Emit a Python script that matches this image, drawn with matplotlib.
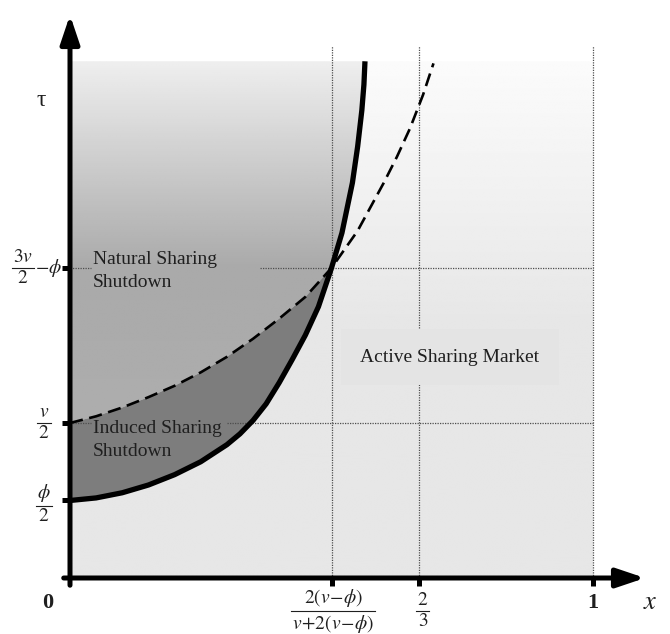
import numpy as np
import matplotlib.pyplot as plt
from matplotlib.patches import Polygon

plt.rcParams['font.family'] = ['Liberation Serif', 'DejaVu Serif']
plt.rcParams['mathtext.fontset'] = 'stix'

# key levels on the axes
phi_half = 0.15
v_half = 0.30
tau_cross = 0.60
x_cross = 0.50
x_two_thirds = 2 / 3
x_one = 1.0
tau_top = 1.0

# solid boundary
solid_x = [0.0, 0.05, 0.1, 0.15, 0.2, 0.25, 0.3, 0.325, 0.35, 0.375, 0.4,
           0.425, 0.45, 0.475, 0.5, 0.52, 0.54, 0.55, 0.558, 0.562, 0.564]
solid_tau = [0.150, 0.155, 0.165, 0.180, 0.200, 0.225, 0.258, 0.279, 0.305,
             0.337, 0.378, 0.423, 0.470, 0.525, 0.600, 0.668, 0.765, 0.835,
             0.905, 0.955, 1.0]

# dashed boundary
dashed_x = [0.0, 0.05, 0.1, 0.15, 0.2, 0.25, 0.3, 0.35, 0.4, 0.45, 0.5,
            0.55, 0.6, 0.625, 0.65, 0.675, 0.695]
dashed_tau = [0.300, 0.313, 0.330, 0.350, 0.372, 0.398, 0.428, 0.463, 0.502,
              0.544, 0.600, 0.672, 0.765, 0.815, 0.870, 0.935, 0.996]

y_tick_vals = [phi_half, v_half, tau_cross]
x_tick_vals = [x_cross, x_two_thirds, x_one]

region_labels = ['Natural Sharing\nShutdown', 'Induced Sharing\nShutdown',
                 'Active Sharing Market']

TXT = '0.12'


def px(x):
    return (x - 70) / 523


def py(y):
    return (578 - y) / 516.7


def frac(ax, renderer, x, y, num, den, fs=14):
    # stacked fraction centred on (x, y), bar at y
    nt = ax.annotate(num, xy=(x, y), xytext=(0, 1.5), textcoords='offset points',
                     ha='center', va='bottom', fontsize=fs, color=TXT)
    dt = ax.annotate(den, xy=(x, y), xytext=(0, -1.5), textcoords='offset points',
                     ha='center', va='top', fontsize=fs, color=TXT)
    w = max(nt.get_window_extent(renderer).width,
            dt.get_window_extent(renderer).width) + 2
    half = w / 2 / 523
    ax.plot([x - half, x + half], [y, y], color=TXT, lw=0.8)
    return x + half


def main():
    fig = plt.figure(figsize=(6.7, 6.34), dpi=100)
    ax = fig.add_axes([0, 0, 1, 1])
    ax.set_xlim(-70 / 523, 600 / 523)
    ax.set_ylim(-56 / 516.7, 578 / 516.7)
    ax.axis('off')
    renderer = fig.canvas.get_renderer()

    t = np.linspace(0, 1, 256)

    # light background of the whole square
    light = np.interp(t, [0, 0.5, 1.0], [0.905, 0.905, 0.985])
    ax.imshow(np.repeat(light[:, None], 2, axis=1), cmap='gray', vmin=0, vmax=1,
              extent=[0, x_one, 0, tau_top], origin='lower', aspect='auto',
              zorder=0, interpolation='bilinear')

    # natural shutdown region, gradient clipped to the polygon
    sx, st = np.array(solid_x), np.array(solid_tau)
    dx, dt = np.array(dashed_x), np.array(dashed_tau)
    up = sx >= x_cross
    lo = dx <= x_cross
    nat = np.vstack([[[0, tau_top], [sx[-1], tau_top]],
                     np.column_stack([sx[up][::-1], st[up][::-1]]),
                     np.column_stack([dx[lo][::-1], dt[lo][::-1]])])
    nat_poly = Polygon(nat, closed=True, facecolor='none', edgecolor='none')
    ax.add_patch(nat_poly)
    dark = np.interp(t, [0, 0.3, 0.6, 1.0], [0.68, 0.68, 0.665, 0.935])
    im = ax.imshow(np.repeat(dark[:, None], 2, axis=1), cmap='gray', vmin=0, vmax=1,
                   extent=[0, 0.6, 0, tau_top], origin='lower', aspect='auto',
                   zorder=1, interpolation='bilinear')
    im.set_clip_path(nat_poly)

    # induced shutdown region
    sl = sx <= x_cross
    ind = np.vstack([np.column_stack([dx[lo], dt[lo]]),
                     np.column_stack([sx[sl][::-1], st[sl][::-1]])])
    ax.add_patch(Polygon(ind, closed=True, facecolor='0.49', edgecolor='none',
                         zorder=2))

    # dotted guide lines
    dot = dict(color='0.3', lw=0.9, ls=(0, (1, 1)), zorder=3)
    for xv in x_tick_vals:
        ax.plot([xv, xv], [0, 1.03], **dot)
    ax.plot([0, 0.04], [tau_cross, tau_cross], **dot)
    ax.plot([0.363, x_one], [tau_cross, tau_cross], **dot)
    ax.plot([0, 0.04], [v_half, v_half], **dot)
    ax.plot([0.30, x_one], [v_half, v_half], **dot)

    # boundaries
    ax.plot(solid_x, solid_tau, color='k', lw=3.8, zorder=5,
            solid_capstyle='butt', solid_joinstyle='round')
    ax.plot(dashed_x, dashed_tau, color='k', lw=1.9, ls=(0, (5, 2.5)), zorder=5)

    # axes with arrows
    arrow = dict(arrowstyle='-|>,head_length=0.95,head_width=0.32', lw=3.6,
                 color='k', shrinkA=0, shrinkB=0, mutation_scale=18)
    ax.annotate('', xy=(0, py(15)), xytext=(0, -0.014),
                arrowprops=arrow, zorder=6)
    ax.annotate('', xy=(px(645), 0), xytext=(-0.012, 0),
                arrowprops=arrow, zorder=6)

    for yv in y_tick_vals:
        ax.plot([-0.016, 0], [yv, yv], color='k', lw=3.6, zorder=6,
                solid_capstyle='butt')
    for xv in x_tick_vals:
        ax.plot([xv, xv], [0, -0.016], color='k', lw=3.6, zorder=6,
                solid_capstyle='butt')

    # y tick labels
    frac(ax, renderer, px(44), phi_half - 0.011, r'$\phi$', r'$2$', fs=14)
    frac(ax, renderer, px(44), v_half, r'$v$', r'$2$', fs=14)
    right = frac(ax, renderer, px(23), tau_cross, r'$3v$', r'$2$', fs=14)
    ax.text(right + 0.002, tau_cross, r'$-\phi$', ha='left', va='center',
            fontsize=14, color=TXT)

    # x tick labels
    frac(ax, renderer, x_cross + 0.003, py(611), r'$2(v\!-\!\phi)$',
         r'$v\!+\!2(v\!-\!\phi)$', fs=14)
    frac(ax, renderer, x_two_thirds + 0.008, py(611), r'$2$', r'$3$', fs=14)
    ax.text(x_one, py(603), '1', ha='center', va='center', fontsize=16,
            fontweight='bold', color=TXT)
    ax.text(px(48), py(603), '0', ha='center', va='center', fontsize=16,
            fontweight='bold', color=TXT)
    ax.text(px(650), py(603), r'$x$', ha='center', va='center', fontsize=19,
            color=TXT)
    ax.text(px(41), py(100), 'τ', ha='center', va='center', fontsize=17,
            color=TXT)

    # region labels
    ax.text(0.044, py(271), region_labels[0], ha='left', va='center',
            fontsize=14, color=TXT, linespacing=1.45, zorder=7)
    ax.text(0.044, py(440), region_labels[1], ha='left', va='center',
            fontsize=14, color=TXT, linespacing=1.45, zorder=7)
    ax.text(px(450), py(357), region_labels[2], ha='center', va='center',
            fontsize=14, color=TXT, zorder=7,
            bbox=dict(boxstyle='square,pad=1.0', facecolor='0.895',
                      edgecolor='none'))

    fig.savefig('out.png', dpi=100)


if __name__ == '__main__':
    main()
